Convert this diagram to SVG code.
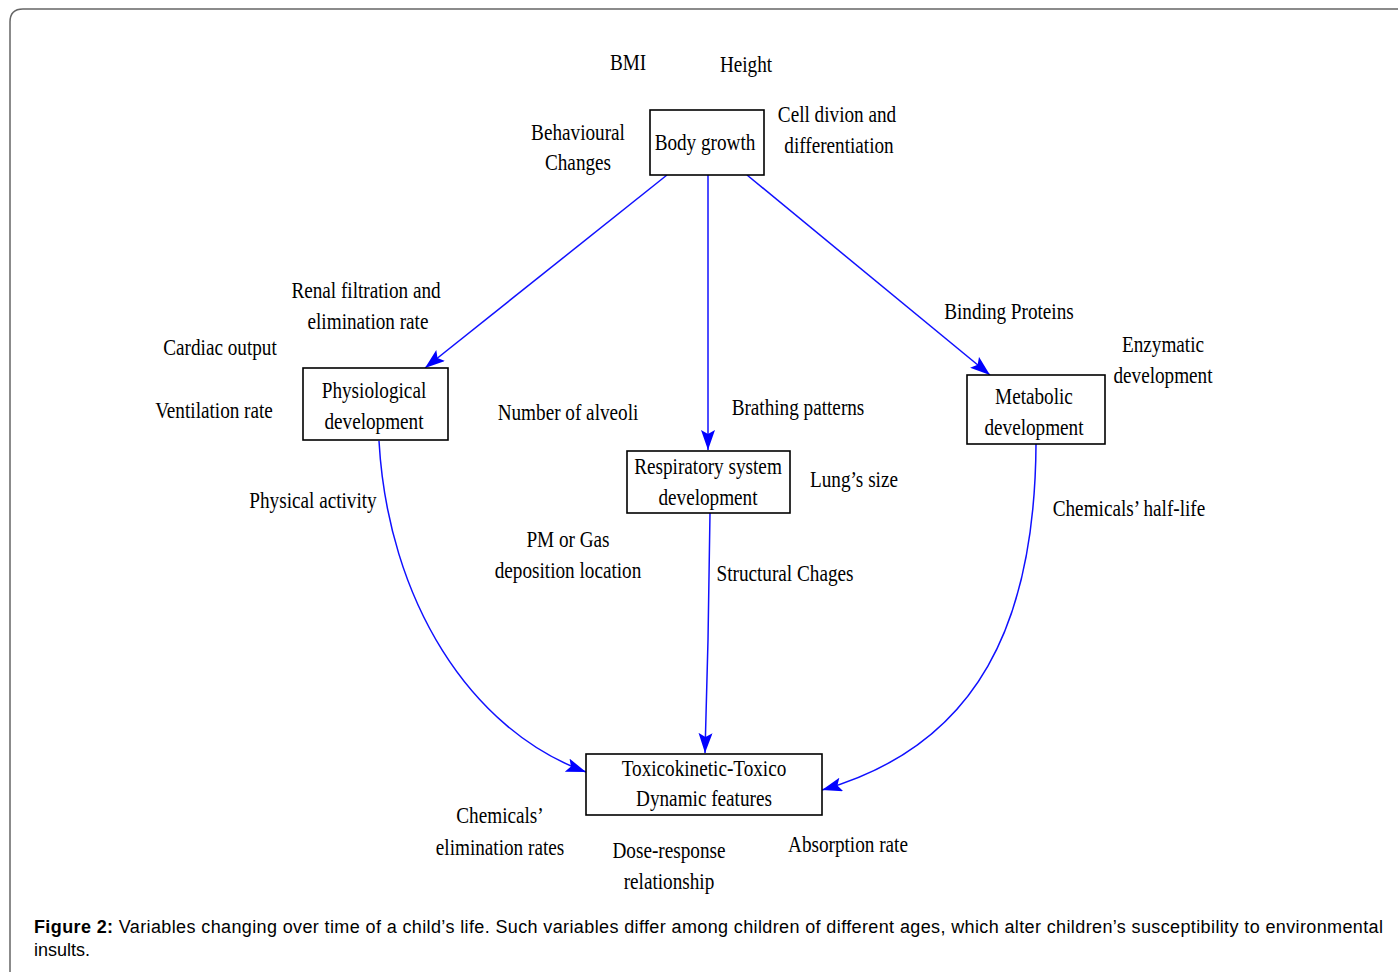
<svg xmlns="http://www.w3.org/2000/svg" width="1398" height="972" viewBox="0 0 1398 972">
<style>
.t{font-family:"Liberation Serif","Times New Roman",serif;font-size:24px;fill:#000;text-anchor:middle}
.box{fill:#fff;stroke:#000;stroke-width:1.6}
.c{fill:none;stroke:#1010ff;stroke-width:1.5;marker-end:url(#ah)}
.cap{font-family:"Liberation Sans",Arial,sans-serif;font-size:18px;fill:#000}
</style>
<defs>
<marker id="ah" markerUnits="userSpaceOnUse" markerWidth="22" markerHeight="16" refX="20" refY="7" orient="auto">
<path d="M0,0 L20,7 L0,14 L4,7 Z" fill="#0000ff"/>
</marker>
</defs>
<rect width="1398" height="972" fill="#fff"/>
<path d="M10,1000 L10,22 Q10,9 23,9 L1420,9" fill="none" stroke="#666" stroke-width="1.5"/>

<g id="connectors">
<path class="c" d="M667,175 L425,368"/>
<path class="c" d="M708,175 L708,450"/>
<path class="c" d="M747,175 L990,375"/>
<path class="c" d="M379,441 C388,600 470,730 586,772"/>
<path class="c" d="M710,513 L708,640 L705,753"/>
<path class="c" d="M1036,444 C1035,620 980,745 822,790"/>
</g>

<g id="body-growth">
<rect class="box" x="650" y="110" width="114" height="65"/>
<text class="t" transform="translate(705,150) scale(0.8,1)">Body growth</text>
</g>
<g id="physiological">
<rect class="box" x="303" y="368" width="145" height="72"/>
<text class="t" transform="translate(374,398) scale(0.8,1)">Physiological</text>
<text class="t" transform="translate(374,429) scale(0.8,1)">development</text>
</g>
<g id="metabolic">
<rect class="box" x="967" y="375" width="138" height="69"/>
<text class="t" transform="translate(1034,404) scale(0.8,1)">Metabolic</text>
<text class="t" transform="translate(1034,435) scale(0.8,1)">development</text>
</g>
<g id="respiratory">
<rect class="box" x="627" y="451" width="163" height="62"/>
<text class="t" transform="translate(708,474) scale(0.8,1)">Respiratory system</text>
<text class="t" transform="translate(708,505) scale(0.8,1)">development</text>
</g>
<g id="toxico">
<rect class="box" x="586" y="754" width="236" height="61"/>
<text class="t" transform="translate(704,776) scale(0.8,1)">Toxicokinetic-Toxico</text>
<text class="t" transform="translate(704,806) scale(0.8,1)">Dynamic features</text>
</g>

<g id="labels">
<text class="t" transform="translate(628,70) scale(0.8,1)">BMI</text>
<text class="t" transform="translate(746,72) scale(0.8,1)">Height</text>
<text class="t" transform="translate(578,140) scale(0.8,1)">Behavioural</text>
<text class="t" transform="translate(578,170) scale(0.8,1)">Changes</text>
<text class="t" transform="translate(837,122) scale(0.8,1)">Cell divion and</text>
<text class="t" transform="translate(839,153) scale(0.8,1)">differentiation</text>
<text class="t" transform="translate(366,298) scale(0.8,1)">Renal filtration and</text>
<text class="t" transform="translate(368,329) scale(0.8,1)">elimination rate</text>
<text class="t" transform="translate(220,355) scale(0.8,1)">Cardiac output</text>
<text class="t" transform="translate(214,418) scale(0.8,1)">Ventilation rate</text>
<text class="t" transform="translate(568,420) scale(0.8,1)">Number of alveoli</text>
<text class="t" transform="translate(798,415) scale(0.8,1)">Brathing patterns</text>
<text class="t" transform="translate(1009,319) scale(0.8,1)">Binding Proteins</text>
<text class="t" transform="translate(1163,352) scale(0.8,1)">Enzymatic</text>
<text class="t" transform="translate(1163,383) scale(0.8,1)">development</text>
<text class="t" transform="translate(854,487) scale(0.8,1)">Lung’s size</text>
<text class="t" transform="translate(313,508) scale(0.8,1)">Physical activity</text>
<text class="t" transform="translate(1129,516) scale(0.8,1)">Chemicals’ half-life</text>
<text class="t" transform="translate(568,547) scale(0.8,1)">PM or Gas</text>
<text class="t" transform="translate(568,578) scale(0.8,1)">deposition location</text>
<text class="t" transform="translate(785,581) scale(0.8,1)">Structural Chages</text>
<text class="t" transform="translate(500,823) scale(0.8,1)">Chemicals’</text>
<text class="t" transform="translate(500,855) scale(0.8,1)">elimination rates</text>
<text class="t" transform="translate(669,858) scale(0.8,1)">Dose-response</text>
<text class="t" transform="translate(669,889) scale(0.8,1)">relationship</text>
<text class="t" transform="translate(848,852) scale(0.8,1)">Absorption rate</text>
</g>

<g id="caption">
<text class="cap" x="34" y="933" textLength="1349" lengthAdjust="spacing"><tspan font-weight="bold">Figure 2:</tspan> Variables changing over time of a child’s life. Such variables differ among children of different ages, which alter children’s susceptibility to environmental</text>
<text class="cap" x="34" y="956">insults.</text>
</g>
</svg>
